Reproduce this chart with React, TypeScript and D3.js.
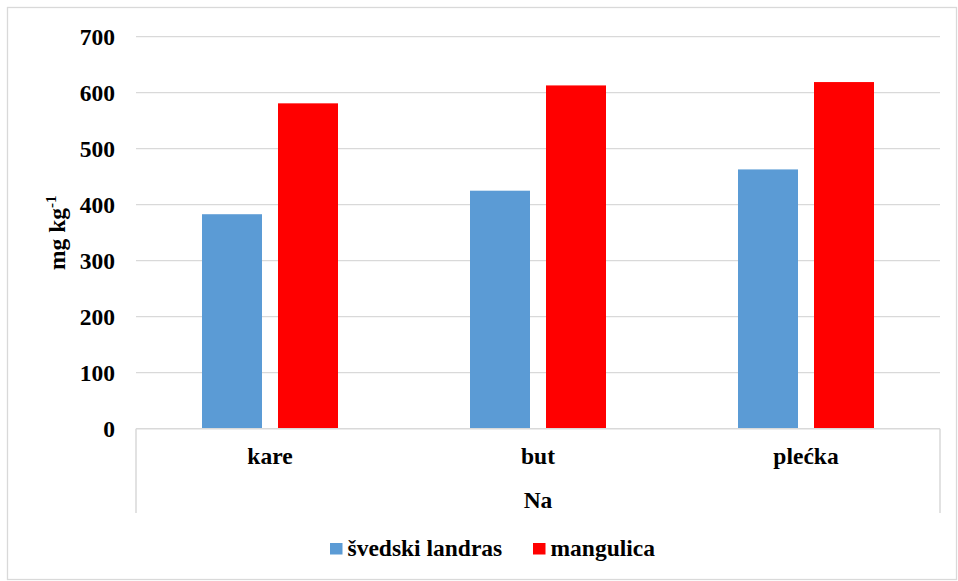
import React from "react";
import * as d3 from "d3";

const categories = ["kare", "but", "plećka"];
const seriesNames = ["švedski landras", "mangulica"];
const svedskiLandras = [383, 425, 463];
const mangulica = [581, 613, 619];
const yTicks = [0, 100, 200, 300, 400, 500, 600, 700];
const groupLabel = "Na";
const colors = ["#5B9BD5", "#FF0000"];

const W = 958;
const H = 581;
const FONT = "Liberation Serif";
const FS = 23.5;

export default function App() {
  const left = 136, right = 940, top = 36.7, bottom = 428.7;
  const x = d3.scaleBand<string>().domain(categories).range([left, right]).padding(0);
  const y = d3.scaleLinear().domain([0, 700]).range([bottom, top]);
  const inner = d3.scaleBand<string>().domain(seriesNames).range([-68, 68]).paddingInner(16 / 76);
  const series = [svedskiLandras, mangulica];
  const grid = "#d9d9d9";

  return (
    <svg width={W} height={H} style={{ position: "absolute", left: 0, top: 0 }}>
      <rect x={0} y={0} width={W} height={H} fill="#fff" />
      <rect x={7.5} y={7.5} width={949} height={572} fill="none" stroke={grid} strokeWidth={1.3} />
      {yTicks.map((t) => (
        <g key={t}>
          {t > 0 && <line x1={left} x2={right} y1={y(t)} y2={y(t)} stroke={grid} strokeWidth={1.3} />}
          <text x={115} y={y(t)} dy="0.35em" textAnchor="end" fontSize={FS} fontFamily={FONT} fontWeight="bold" fill="#000">
            {t}
          </text>
        </g>
      ))}
      {categories.map((c, i) =>
        series.map((s, j) => (
          <rect
            key={c + j}
            x={(x(c) as number) + x.bandwidth() / 2 + (inner(seriesNames[j]) as number)}
            y={y(s[i])}
            width={inner.bandwidth()}
            height={y(0) - y(s[i])}
            fill={colors[j]}
          />
        ))
      )}
      <line x1={left} x2={right} y1={bottom} y2={bottom} stroke={grid} strokeWidth={1.5} />
      <line x1={left} x2={left} y1={bottom} y2={513} stroke={grid} strokeWidth={1.5} />
      <line x1={right} x2={right} y1={bottom} y2={513} stroke={grid} strokeWidth={1.5} />
      {categories.map((c) => (
        <text key={c} x={(x(c) as number) + x.bandwidth() / 2} y={464} textAnchor="middle" fontSize={FS} fontFamily={FONT} fontWeight="bold" fill="#000">
          {c}
        </text>
      ))}
      <text x={(left + right) / 2} y={507.5} textAnchor="middle" fontSize={FS} fontFamily={FONT} fontWeight="bold" fill="#000">
        {groupLabel}
      </text>
      <text transform={`translate(65, ${(top + bottom) / 2}) rotate(-90)`} textAnchor="middle" fontSize={FS} fontFamily={FONT} fontWeight="bold" fill="#000">
        mg kg<tspan fontSize={15} dy={-9}>-1</tspan>
      </text>
      {[
        { sx: 330, tx: 347.5 },
        { sx: 533, tx: 550.5 },
      ].map((p, j) => (
        <g key={j}>
          <rect x={p.sx} y={543} width={12.5} height={11.5} fill={colors[j]} />
          <text x={p.tx} y={555.5} fontSize={FS} fontFamily={FONT} fontWeight="bold" fill="#000">
            {seriesNames[j]}
          </text>
        </g>
      ))}
    </svg>
  );
}
